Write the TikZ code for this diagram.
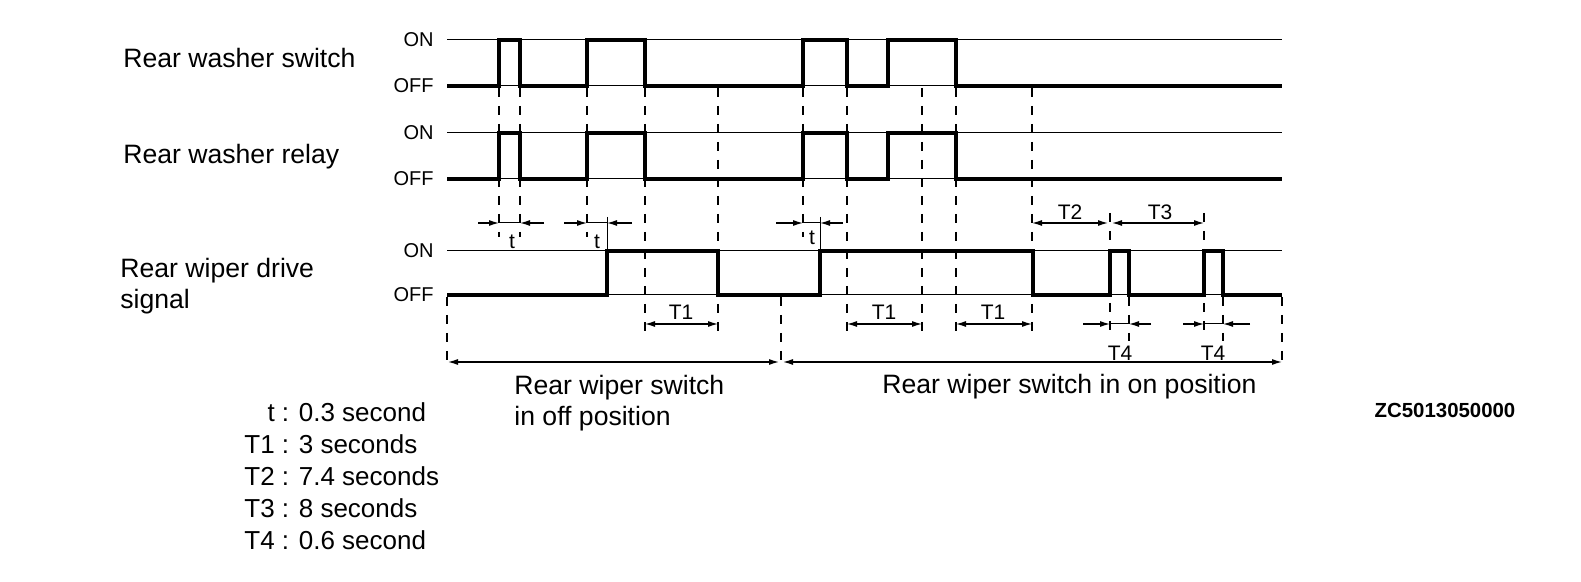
\documentclass[tikz,border=0pt]{standalone}
\usepackage{fontspec}
\setmainfont{Liberation Sans}
\usetikzlibrary{arrows.meta,calc}

\begin{document}
\begin{tikzpicture}[x=0.5pt,y=-0.5pt,
  sig/.style={line width=2pt},
  lvl/.style={line width=0.5pt},
  guide/.style={line width=0.6pt,dash pattern=on 4.5pt off 4.5pt},
  dim/.style={line width=0.6pt,-{Latex[length=5pt,width=3pt]}},
  dimb/.style={line width=0.6pt,{Latex[length=5pt,width=3pt]}-{Latex[length=5pt,width=3pt]}},
  lab/.style={font=\fontsize{13.3}{15.5}\selectfont,inner sep=0,align=left},
  lvltxt/.style={font=\fontsize{10}{12}\selectfont,anchor=east,inner sep=0},
  tlab/.style={font=\fontsize{10.5}{12}\selectfont,inner sep=0}]
  \useasboundingbox (0,0) rectangle (1581,582);
  \node[lab,anchor=west] (sw) at (123,58) {Rear washer switch};
  \node[lab,anchor=west] (rl) at (123,157) {Rear washer relay};
  \node[lab,anchor=west] (wp) at (120,286) {Rear wiper drive\\signal};
  \foreach \y/\n [count=\i] in {40/ON,86/OFF,133/ON,179/OFF,251/ON,295/OFF}{
    \node[lvltxt] (lv\i) at (434,\y) {\n};
    \draw[lvl] (447,\y) -- (1282,\y);}
  % guide lines
  \foreach \x in {499,520,587,803} \draw[guide] (\x,88) -- (\x,237);
  \foreach \x in {645,718,847,922,956,1032} \draw[guide] (\x,88) -- (\x,332);
  \foreach \x in {447,781,1282} \draw[guide] (\x,297) -- (\x,369);
  \foreach \x in {1110,1204} \draw[guide] (\x,213) -- (\x,338);
  \foreach \x in {1129,1223} \draw[guide] (\x,297) -- (\x,341);
  \draw[lvl] (607,217) -- (607,251);
  \draw[lvl] (820,217) -- (820,251);
  % switch and relay
  \foreach \dy in {0,93}{
    \begin{scope}[shift={(0,\dy)}]
      \draw[sig] (447,86) -| (499,40) -| (520,86) -| (587,40) -| (645,86) -| (803,40) -| (847,86) -| (888,40) -| (956,86) -- (1282,86);
    \end{scope}}
  % wiper drive signal
  \draw[sig] (447,295) -| (607,251) -| (718,295) -| (820,251) -| (1033,295) -| (1110,251) -| (1129,295) -| (1204,251) -| (1223,295) -- (1282,295);
  \foreach \a/\b/\c/\d/\m/\ty [count=\i] in {478/499/520/544/512/242, 564/587/607/632/597/242, 776/803/820/843/812/238}{
    \draw[dim] (\a,223) -- (\b,223);
    \draw[dim] (\d,223) -- (\c,223);
    \draw[lvl] (\b,223) -- (\c,223);
    \node[tlab] (t\i) at (\m,\ty) {t};}
  \foreach \a/\b/\m [count=\i] in {645/718/681, 847/922/884, 956/1032/993}{
    \draw[dimb] (\a,324) -- (\b,324);
    \node[tlab] (tone\i) at (\m,312) {T1};}
  \draw[dimb] (1032,223) -- (1108,223);
  \node[tlab] (ttwo) at (1070,212) {T2};
  \draw[dimb] (1112,223) -- (1204,223);
  \node[tlab] (tthree) at (1160,212) {T3};
  \foreach \a/\b/\c/\d/\m [count=\i] in {1083/1110/1129/1151/1120, 1183/1204/1223/1250/1213}{
    \draw[dim] (\a,324) -- (\b,324);
    \draw[dim] (\d,324) -- (\c,324);
    \draw[lvl] (\b,324) -- (\c,324);
    \node[tlab] (tfour\i) at (\m,353) {T4};}
  \draw[dimb] (448,362) -- (779,362);
  \draw[dimb] (783,362) -- (1282,362);
  \node[lab,anchor=west] (offpos) at (514,403) {Rear wiper switch\\in off position};
  \node[lab,anchor=west] (onpos) at (882,387) {Rear wiper switch in on position};
  \node[anchor=north west,inner sep=0,font=\fontsize{13}{16}\selectfont] (legend) at (244,399)
    {\begin{tabular}{@{}r@{ : }l@{}}
      t & 0.3 second\\
      T1 & 3 seconds\\
      T2 & 7.4 seconds\\
      T3 & 8 seconds\\
      T4 & 0.6 second
    \end{tabular}};
  \node[font=\bfseries\fontsize{10.2}{12}\selectfont,inner sep=0] (code) at (1445,410) {ZC5013050000};
\end{tikzpicture}
\end{document}
